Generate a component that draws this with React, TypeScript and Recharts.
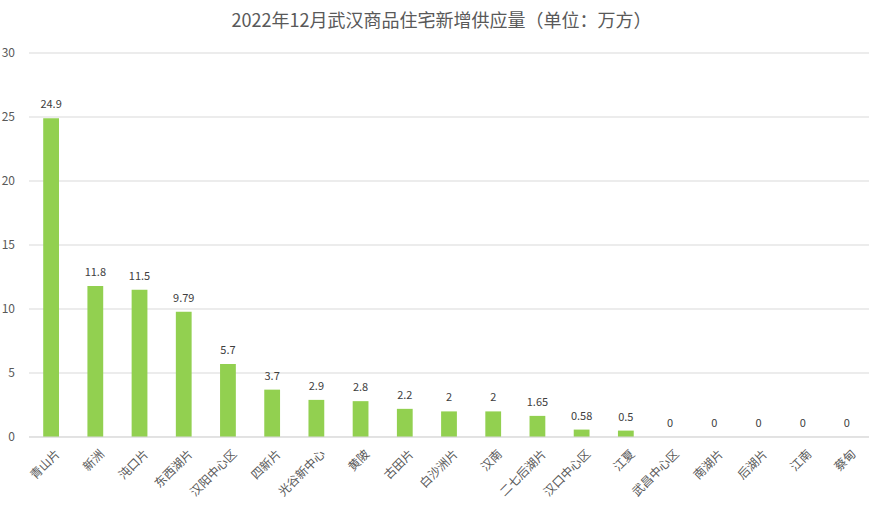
import React from "react";
import { ComposedChart, Bar, Line, XAxis, YAxis, CartesianGrid } from "recharts";

const categories = ["青山片","新洲","沌口片","东西湖片","汉阳中心区","四新片","光谷新中心","黄陂","古田片","白沙洲片","汉南","二七后湖片","汉口中心区","江夏","武昌中心区","南湖片","后湖片","江南","蔡甸"];
const values = [24.9,11.8,11.5,9.79,5.7,3.7,2.9,2.8,2.2,2,2,1.65,0.58,0.5,0,0,0,0,0];
const yTicks = [0,5,10,15,20,25,30];

const data = categories.map((name, i) => ({ name, value: values[i] }));

const FONT = "'Noto Sans CJK SC', 'Noto Sans', sans-serif";

const XTick = (props: any) => {
  const { x, y, payload } = props;
  return (
    <g transform={`translate(${x + 4},${y + 4})`}>
      <text transform="rotate(-45)" textAnchor="end" dy={8} fill="#595959" fontSize={12} fontFamily={FONT}>
        {payload.value}
      </text>
    </g>
  );
};

const ValueLabel = (props: any) => {
  const { x, y, value } = props;
  return (
    <text x={x} y={y - 10} textAnchor="middle" fill="#404040" fontSize={11} fontFamily={FONT}>
      {value}
    </text>
  );
};

export default function App() {
  return (
    <div style={{ position: "absolute", left: 0, top: 0, width: 883, height: 511, background: "#fff" }}>
      <div style={{ position: "absolute", left: 0, top: 6, width: 883, textAlign: "center", fontFamily: FONT, fontSize: 18, color: "#595959" }}>
        2022年12月武汉商品住宅新增供应量（单位：万方）
      </div>
      <ComposedChart width={883} height={511} data={data} margin={{ top: 53, right: 14, bottom: 0, left: 0 }} barCategoryGap={30}>
        <CartesianGrid vertical={false} stroke="#d9d9d9" />
        <XAxis dataKey="name" interval={0} height={74} tickLine={false} stroke="#d9d9d9" tick={<XTick />} />
        <YAxis width={29} domain={[0, 30]} ticks={yTicks} axisLine={false} tickLine={false} tickMargin={8}
          tick={{ fill: "#595959", fontSize: 12, fontFamily: FONT }} />
        <Bar dataKey="value" fill="#92d050" isAnimationActive={false} />
        <Line dataKey="value" stroke="none" dot={false} activeDot={false} isAnimationActive={false} label={<ValueLabel />} />
      </ComposedChart>
    </div>
  );
}
